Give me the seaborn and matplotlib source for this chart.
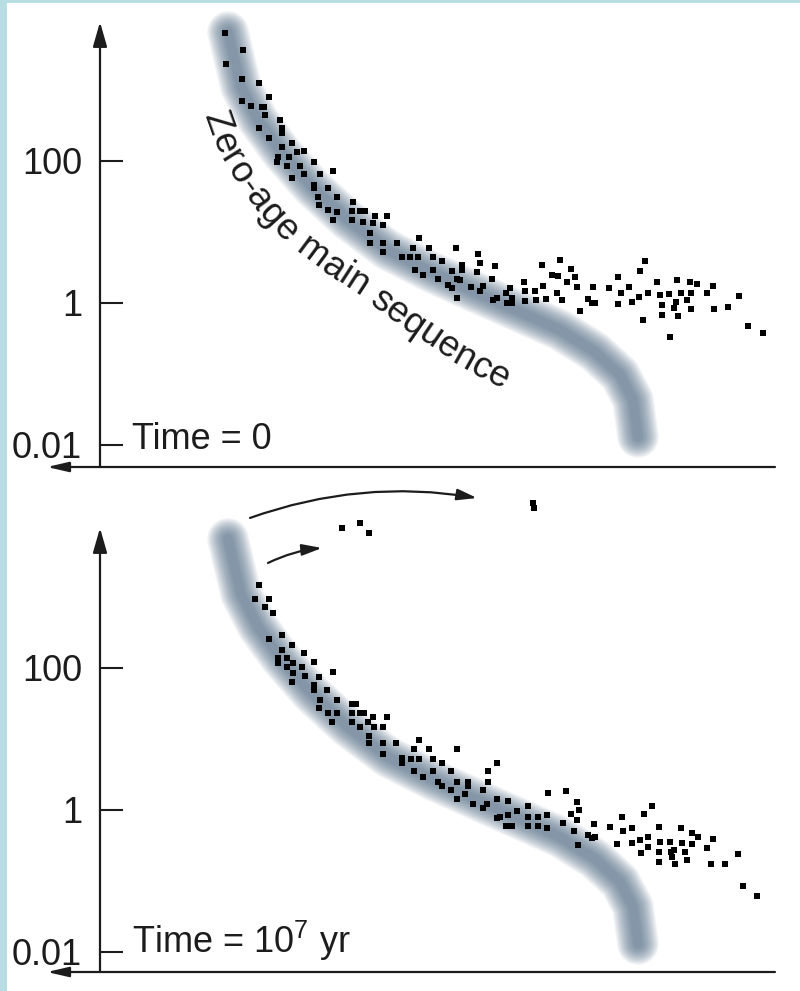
import numpy as np
import matplotlib
matplotlib.use("Agg")
import matplotlib.pyplot as plt
import seaborn as sns
from matplotlib.patches import Rectangle
from matplotlib.font_manager import FontProperties, findfont, get_font

# ---------------------------------------------------------------------------
# Data: log10 effective temperature and log10 luminosity (solar units)
# ---------------------------------------------------------------------------

# Ridge line of the zero-age main sequence
zams_logT = [4.444, 4.418, 4.384, 4.336, 4.276, 4.204, 4.124, 4.034, 3.950,
             3.860, 3.780, 3.710, 3.660, 3.634, 3.624]
zams_logL = [3.817, 3.042, 2.577, 2.113, 1.634, 1.169, 0.746, 0.423, 0.155,
             -0.127, -0.380, -0.690, -1.014, -1.366, -1.887]

# Cluster members at time = 0
t0_logT = [4.450, 4.414, 4.448, 4.416, 4.382, 4.362, 4.416, 4.398, 4.376, 4.372,
           4.370, 4.382, 4.340, 4.336, 4.336, 4.362, 4.336, 4.316, 4.306, 4.292,
           4.344, 4.346, 4.322, 4.326, 4.300, 4.272, 4.292, 4.316, 4.260, 4.234,
           4.272, 4.272, 4.244, 4.264, 4.226, 4.194, 4.262, 4.244, 4.226, 4.196,
           4.180, 4.170, 4.150, 4.126, 4.234, 4.196, 4.174, 4.154, 4.134, 4.160,
           4.160, 4.134, 4.106, 4.134,
           4.062, 4.074, 4.042, 4.096, 4.080, 4.064, 4.034, 4.016, 3.988, 3.944,
           3.940, 3.976, 3.976, 3.910, 4.070, 4.054, 4.034, 3.996, 3.946, 4.024,
           3.986, 3.980, 3.916, 4.004, 3.996, 3.958, 3.934, 3.940, 3.986, 3.914,
           3.906, 3.888, 3.880, 3.852, 3.876, 3.886, 3.876, 3.850, 3.850, 3.830,
           3.828, 3.816, 3.814, 3.808, 3.796, 3.780, 3.784, 3.766, 3.758, 3.750,
           3.786, 3.776, 3.746, 3.740, 3.724, 3.716, 3.710, 3.714, 3.682, 3.664,
           3.658, 3.664, 3.642, 3.636, 3.620, 3.610, 3.622, 3.604, 3.614, 3.586,
           3.580, 3.576, 3.562, 3.576, 3.560, 3.546, 3.548, 3.538, 3.552, 3.544,
           3.526, 3.520, 3.506, 3.518, 3.518, 3.486, 3.474, 3.472, 3.444, 3.422,
           3.404, 3.374]
t0_logL = [3.803, 3.563, 3.366, 3.155, 3.099, 2.901, 2.845, 2.775, 2.761, 2.761,
           2.648, 2.465, 2.577, 2.465, 2.394, 2.324, 2.197, 2.254, 2.127, 2.141,
           2.056, 1.986, 2.056, 1.930, 1.930, 1.986, 1.817, 1.761, 1.817, 1.859,
           1.662, 1.620, 1.620, 1.493, 1.493, 1.423, 1.380, 1.310, 1.282, 1.296,
           1.296, 1.296, 1.225, 1.225, 1.169, 1.169, 1.141, 1.127, 1.099, 0.986,
           0.845, 0.845, 0.845, 0.718,
           0.915, 0.775, 0.775, 0.648, 0.648, 0.648, 0.648, 0.592, 0.775, 0.690,
           0.563, 0.535, 0.465, 0.521, 0.465, 0.394, 0.465, 0.451, 0.437, 0.338,
           0.338, 0.324, 0.338, 0.254, 0.211, 0.225, 0.239, 0.169, 0.070, 0.042,
           0.070, 0.141, 0.211, 0.296, 0.070, 0.000, 0.000, 0.169, 0.028, 0.169,
           0.042, 0.535, 0.239, 0.056, 0.394, 0.606, 0.380, 0.296, 0.479, 0.366,
           0.141, 0.042, 0.225, -0.113, 0.056, 0.000, 0.000, 0.225, 0.211, 0.366,
           0.141, -0.014, 0.225, 0.014, 0.451, 0.592, 0.085, 0.141, -0.239, 0.296,
           0.113, -0.028, 0.127, -0.169, -0.479, 0.324, 0.014, 0.141, -0.070, -0.183,
           0.042, 0.296, 0.268, 0.141, -0.085, 0.141, 0.239, -0.085, -0.056, 0.099,
           -0.324, -0.423]

# Cluster members after 10^7 yr
t7_logT = [4.216, 4.180, 4.162, 3.834, 3.832, 4.382, 4.390, 4.362, 4.370, 4.354,
           4.362, 4.336, 4.316, 4.336, 4.292, 4.344, 4.344, 4.326, 4.314, 4.326,
           4.296, 4.272, 4.314, 4.290, 4.262, 4.234,
           4.316, 4.272, 4.272, 4.246, 4.260, 4.226, 4.196, 4.188, 4.262, 4.244,
           4.226, 4.196, 4.180, 4.172, 4.154, 4.126, 4.236, 4.196, 4.180, 4.164,
           4.152, 4.134, 4.162, 4.162, 4.134, 4.108, 4.134, 4.062, 4.072, 4.042,
           4.096, 4.096, 4.078, 4.062, 4.034, 4.016, 4.072, 4.054, 4.034, 4.024,
           4.016,
           3.986, 3.998, 3.986, 3.964, 3.964, 3.998, 3.970, 3.986, 3.954, 3.924,
           3.924, 3.906, 3.934, 3.906, 3.934, 3.926, 3.884, 3.866, 3.906, 3.900,
           3.884, 3.888, 3.876, 3.844, 3.844, 3.844, 3.824, 3.806, 3.824, 3.806,
           3.804, 3.768, 3.746, 3.742, 3.746, 3.758, 3.774, 3.752, 3.744, 3.712,
           3.724, 3.716, 3.710, 3.680, 3.666, 3.656, 3.654, 3.636, 3.636, 3.620,
           3.618, 3.612, 3.596, 3.604, 3.604, 3.582, 3.580, 3.582, 3.582, 3.560,
           3.558, 3.556, 3.550, 3.552, 3.538, 3.536, 3.530, 3.526, 3.516, 3.504,
           3.516, 3.486, 3.474, 3.478, 3.450, 3.424, 3.414, 3.386]
t7_logL = [3.972, 4.042, 3.901, 4.324, 4.254, 3.169, 2.972, 2.972, 2.859, 2.775,
           2.408, 2.465, 2.324, 2.254, 2.211, 2.141, 2.070, 2.141, 2.070, 2.014,
           2.014, 2.085, 1.930, 1.887, 1.873, 1.944,
           1.803, 1.761, 1.690, 1.690, 1.549, 1.549, 1.493, 1.493, 1.437, 1.366,
           1.366, 1.366, 1.366, 1.366, 1.310, 1.310, 1.239, 1.239, 1.169, 1.239,
           1.169, 1.169, 1.042, 0.944, 0.944, 0.944, 0.789, 0.986, 0.859, 0.859,
           0.732, 0.662, 0.718, 0.718, 0.718, 0.662, 0.549, 0.465, 0.549, 0.394,
           0.338,
           0.859, 0.549, 0.394, 0.394, 0.338, 0.282, 0.225, 0.155, 0.085, 0.549,
           0.394, 0.662, 0.282, 0.155, 0.028, 0.085, 0.127, -0.014, -0.113, -0.099,
           -0.070, -0.225, -0.225, 0.056, -0.099, -0.225, -0.099, -0.070, -0.225, -0.254,
           0.239, 0.268, 0.113, 0.000, -0.141, -0.056, -0.183, -0.296, -0.493, -0.197,
           -0.352, -0.394, -0.380, -0.239, -0.479, -0.099, -0.296, -0.254, -0.465, -0.423,
           -0.606, -0.056, 0.056, -0.380, -0.521, -0.239, -0.451, -0.592, -0.732, -0.451,
           -0.592, -0.662, -0.761, -0.563, -0.254, -0.465, -0.592, -0.704, -0.324, -0.380,
           -0.479, -0.535, -0.408, -0.761, -0.761, -0.620, -1.070, -1.211]

# Evolution of the most massive stars off the main sequence (start -> end)
evo_logT = [(4.400, 3.946), (4.364, 4.256)]
evo_logL = [(4.113, 4.394), (3.479, 3.690)]

# Guide curve for the "Zero-age main sequence" label (letter centres)
label_logT = [4.474, 4.448, 4.410, 4.364, 4.310, 4.240, 4.160, 4.080, 3.980, 3.880, 3.820]
label_logL = [2.676, 2.155, 1.732, 1.282, 0.887, 0.521, 0.155, -0.268, -0.746, -1.127, -1.338]

lum_ticks = [100, 1, 0.01]
lum_tick_labels = ["100", "1", "0.01"]
panel_labels = ["Time = 0", "Time = 10$^{7}$ yr"]
zams_label = "Zero-age main sequence"

assert len(t0_logT) == len(t0_logL)
assert len(t7_logT) == len(t7_logL)

# ---------------------------------------------------------------------------
# Styling
# ---------------------------------------------------------------------------
sns.set_theme(style="white")
plt.rcParams["font.family"] = ["Liberation Sans", "DejaVu Sans"]
plt.rcParams["mathtext.fontset"] = "custom"
plt.rcParams["mathtext.rm"] = "Liberation Sans"
plt.rcParams["mathtext.it"] = "Liberation Sans:italic"
plt.rcParams["mathtext.bf"] = "Liberation Sans:bold"

INK = "#1c1c1c"
BAND = "#4f6a85"
FRAME = "#b8dde3"
FS = 26

fig = plt.figure(figsize=(8.0, 9.91), dpi=100)
fig.patch.set_facecolor("white")
fig.add_artist(Rectangle((0, 0), 7 / 800, 1, transform=fig.transFigure,
                         facecolor=FRAME, edgecolor="none", zorder=10))
fig.add_artist(Rectangle((0, 1 - 3 / 991), 1, 3 / 991, transform=fig.transFigure,
                         facecolor=FRAME, edgecolor="none", zorder=10))

panels = [
    dict(rect=[0.125, 0.52876, 0.84375, 0.46317], ylog=(-2.31, 4.155), ytip=3.958,
         logT=t0_logT, logL=t0_logL, label=panel_labels[0]),
    dict(rect=[0.125, 0.01917, 0.84375, 0.49142], ylog=(-2.282, 4.577), ytip=3.972,
         logT=t7_logT, logL=t7_logL, label=panel_labels[1]),
]

zams_L = np.power(10.0, zams_logL)


def draw_curved_label(ax, text, xs, ys, size):
    """Place each glyph along a guide curve, rotated to the local tangent."""
    pts = ax.transData.transform(np.column_stack([xs, np.power(10.0, ys)]))
    seg = np.hypot(*np.diff(pts, axis=0).T)
    cum = np.concatenate([[0.0], np.cumsum(seg)])

    def at(s):
        return np.array([np.interp(s, cum, pts[:, 0]), np.interp(s, cum, pts[:, 1])])

    fp = FontProperties(family="Liberation Sans", size=size)
    ft = get_font(findfont(fp))
    ft.set_size(size, fig.dpi)
    lift = 0.26 * size * fig.dpi / 72.0
    inv = ax.transData.inverted()
    pos = 0.0
    for ch in text:
        adv = ft.load_char(ord(ch)).linearHoriAdvance / 65536.0
        mid = pos + adv / 2.0
        pos += adv
        if ch == " ":
            continue
        p = at(mid)
        d = at(mid + 7.0) - at(mid - 7.0)
        ang = np.arctan2(d[1], d[0])
        up = np.array([-np.sin(ang), np.cos(ang)])
        bx, by = inv.transform(p - lift * up)
        ax.text(bx, by, ch, rotation=np.degrees(ang), rotation_mode="anchor",
                ha="center", va="baseline", fontsize=size, color=INK,
                family="Liberation Sans", clip_on=False, zorder=4)


axes = []
for i, pnl in enumerate(panels):
    ax = fig.add_axes(pnl["rect"])
    ax.set_facecolor("none")
    ax.set_yscale("log")
    for sp in ax.spines.values():
        sp.set_visible(False)

    # soft, blurred main-sequence band built from stacked translucent strokes
    for w in np.linspace(30, 6, 14):
        sns.lineplot(x=zams_logT, y=zams_L, sort=False, estimator=None, ax=ax,
                     color=BAND, linewidth=w, alpha=0.08, legend=False,
                     solid_capstyle="round", solid_joinstyle="round",
                     clip_on=False, zorder=1)

    sns.scatterplot(x=pnl["logT"], y=np.power(10.0, pnl["logL"]), ax=ax,
                    color="black", s=16, marker="s", linewidth=0,
                    clip_on=False, zorder=3, legend=False)

    ax.set_xlim(4.7, 3.35)
    ax.set_ylim(10 ** pnl["ylog"][0], 10 ** pnl["ylog"][1])
    ax.set_xlabel("")
    ax.set_ylabel("")

    ax.set_yticks(lum_ticks)
    ax.set_yticklabels(lum_tick_labels)
    ax.yaxis.set_minor_locator(matplotlib.ticker.NullLocator())
    ax.set_xticks([])
    ax.tick_params(axis="y", which="major", left=True, direction="in",
                   length=16.5, width=1.5, color=INK, labelsize=FS,
                   labelcolor=INK, pad=13)

    # axes drawn as arrows: luminosity up, temperature increasing to the left
    ax.annotate("", xy=(0, 10 ** pnl["ytip"]), xycoords=("axes fraction", "data"),
                xytext=(0, 0), textcoords="axes fraction", annotation_clip=False,
                arrowprops=dict(arrowstyle="-|>,head_length=15,head_width=4.3",
                                mutation_scale=1, lw=1.6, color=INK,
                                shrinkA=0, shrinkB=0))
    ax.annotate("", xy=(-0.0785, 0), xycoords="axes fraction",
                xytext=(1.0, 0), textcoords="axes fraction", annotation_clip=False,
                arrowprops=dict(arrowstyle="-|>,head_length=13,head_width=3.0",
                                mutation_scale=1, lw=1.6, color=INK,
                                shrinkA=0, shrinkB=0))

    ax.text(0.047, 0.039, pnl["label"], transform=ax.transAxes, fontsize=FS,
            color=INK, ha="left", va="baseline")
    axes.append(ax)

# curved label along the band in the first panel
draw_curved_label(axes[0], zams_label, label_logT, label_logL, 26.5)

# arrows showing the most massive stars leaving the main sequence
for (x0, x1), (y0, y1), rad in zip(evo_logT, evo_logL, (-0.13, -0.09)):
    axes[1].annotate("", xy=(x1, 10 ** y1), xytext=(x0, 10 ** y0),
                     annotation_clip=False,
                     arrowprops=dict(arrowstyle="-|>,head_length=12,head_width=3.4",
                                     mutation_scale=1, lw=1.6, color=INK,
                                     shrinkA=0, shrinkB=0,
                                     connectionstyle=f"arc3,rad={rad}"))

fig.savefig("out.png", dpi=100)
